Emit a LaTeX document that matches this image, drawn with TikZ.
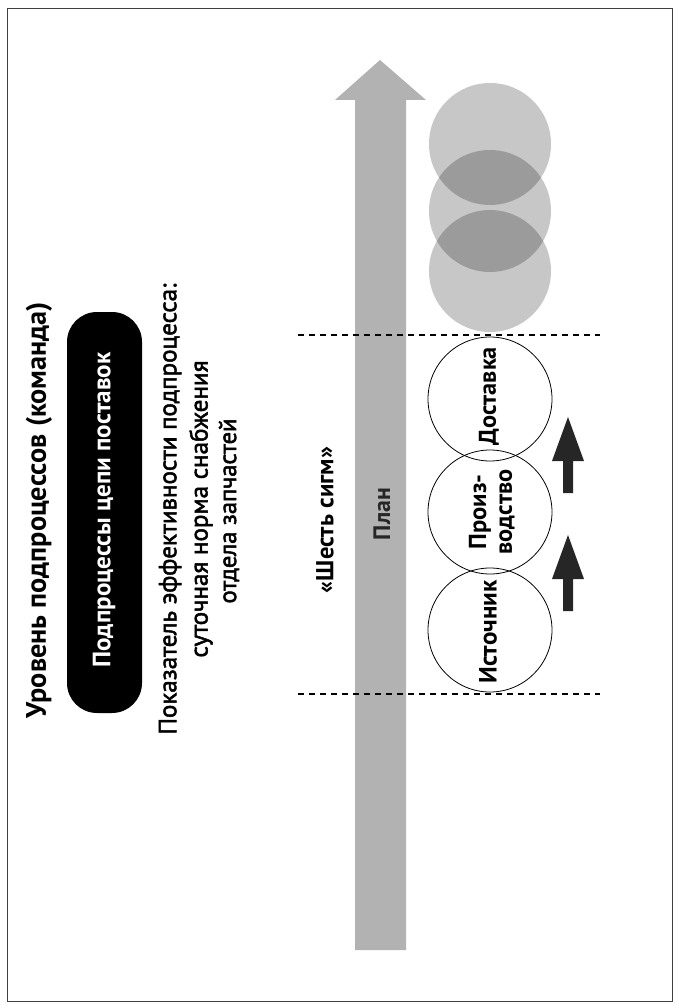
\documentclass[tikz,border=0pt]{standalone}
\usepackage{fontspec}
\usepackage{graphicx}
\setmainfont{PT Sans}
\newfontfamily\semib[FakeBold=2]{PT Sans}
\newcommand{\fitw}[2]{\resizebox{#1}{!}{#2}}
\begin{document}
\begin{tikzpicture}[x=1pt,y=-1pt,
  frame/.style={draw=black!75,line width=0.8pt},
  bigarrow/.style={fill=black!30},
  ghost/.style={fill=black,fill opacity=0.22},
  proc/.style={circle,draw,line width=0.8pt,minimum size=124pt,inner sep=0pt},
  ptext/.style={rotate=90,inner sep=0pt,font=\bfseries\fontsize{22}{24}\selectfont},
  dashline/.style={draw,line width=1.3pt,dash pattern=on 6pt off 5pt},
  blackbox/.style={fill=black,rounded corners=30pt,inner sep=0pt},
  rtext/.style={rotate=90,inner sep=0pt},
  uparrow/.pic={\fill[black!85] (-5,0) -- (-5,-32) -- (-16,-32) -- (0,-76) -- (16,-32) -- (5,-32) -- (5,0) -- cycle;}
]
\useasboundingbox (0,0) rectangle (679,1008);
\draw[frame] (7,8) rectangle (672,1001);

% big arrow
\fill[bigarrow] (355,950) -- (355,100) -- (335,100) -- (380,60) -- (426,100) -- (406,100) -- (406,950) -- cycle;
\node[rtext,font=\bfseries\fontsize{20}{22}\selectfont,text=black!85] (plan) at (382,514) {\fitw{52pt}{План}};

% ghost circles
\fill[ghost] (490,144) circle[radius=61];
\fill[ghost] (490,211) circle[radius=61];
\fill[ghost] (490,271) circle[radius=61];

% dashed lines
\coordinate (d1a) at (298,335);
\coordinate (d1b) at (600,335);
\coordinate (d2a) at (298,694);
\coordinate (d2b) at (600,694);
\draw[dashline] (d1a) -- (d1b);
\draw[dashline] (d2a) -- (d2b);

% process circles
\node[proc] (dost) at (490,399) {};
\node[proc] (proiz) at (490,512) {};
\node[proc] (ist) at (490,630) {};
\node[ptext] (dostt) at (489,396) {\fitw{98pt}{Доставка}};
\node[ptext] (proiz1) at (480,512) {\fitw{75pt}{Произ-}};
\node[ptext] (proiz2) at (507,512) {\fitw{85pt}{водство}};
\node[ptext] (istt) at (488,632) {\fitw{103pt}{Источник}};

% small arrows
\pic at (568,493) {uparrow};
\pic at (568,611) {uparrow};

% left texts
\node[rtext,font=\bfseries\fontsize{24}{26}\selectfont] (title) at (39,510) {\fitw{416pt}{Уровень подпроцессов (команда)}};
\node[blackbox,rotate=90,minimum width=401pt,minimum height=75pt] (box) at (104.5,512.5) {};
\node[rtext,text=white,font=\bfseries\fontsize{21}{24}\selectfont] (boxt) at (104,510) {\fitw{315pt}{Подпроцессы цепи поставок}};
\node[rtext,font=\semib\fontsize{22}{30}\selectfont] (kpi1) at (170,509) {\fitw{451pt}{Показатель эффективности подпроцесса:}};
\node[rtext,font=\semib\fontsize{22}{30}\selectfont] (kpi2) at (201,509) {\fitw{297pt}{суточная норма снабжения}};
\node[rtext,font=\semib\fontsize{22}{30}\selectfont] (kpi3) at (229,511) {\fitw{185pt}{отдела запчастей}};
\node[rtext,font=\bfseries\fontsize{22}{24}\selectfont] (six) at (325,520) {\fitw{146pt}{«Шесть сигм»}};
\end{tikzpicture}
\end{document}
